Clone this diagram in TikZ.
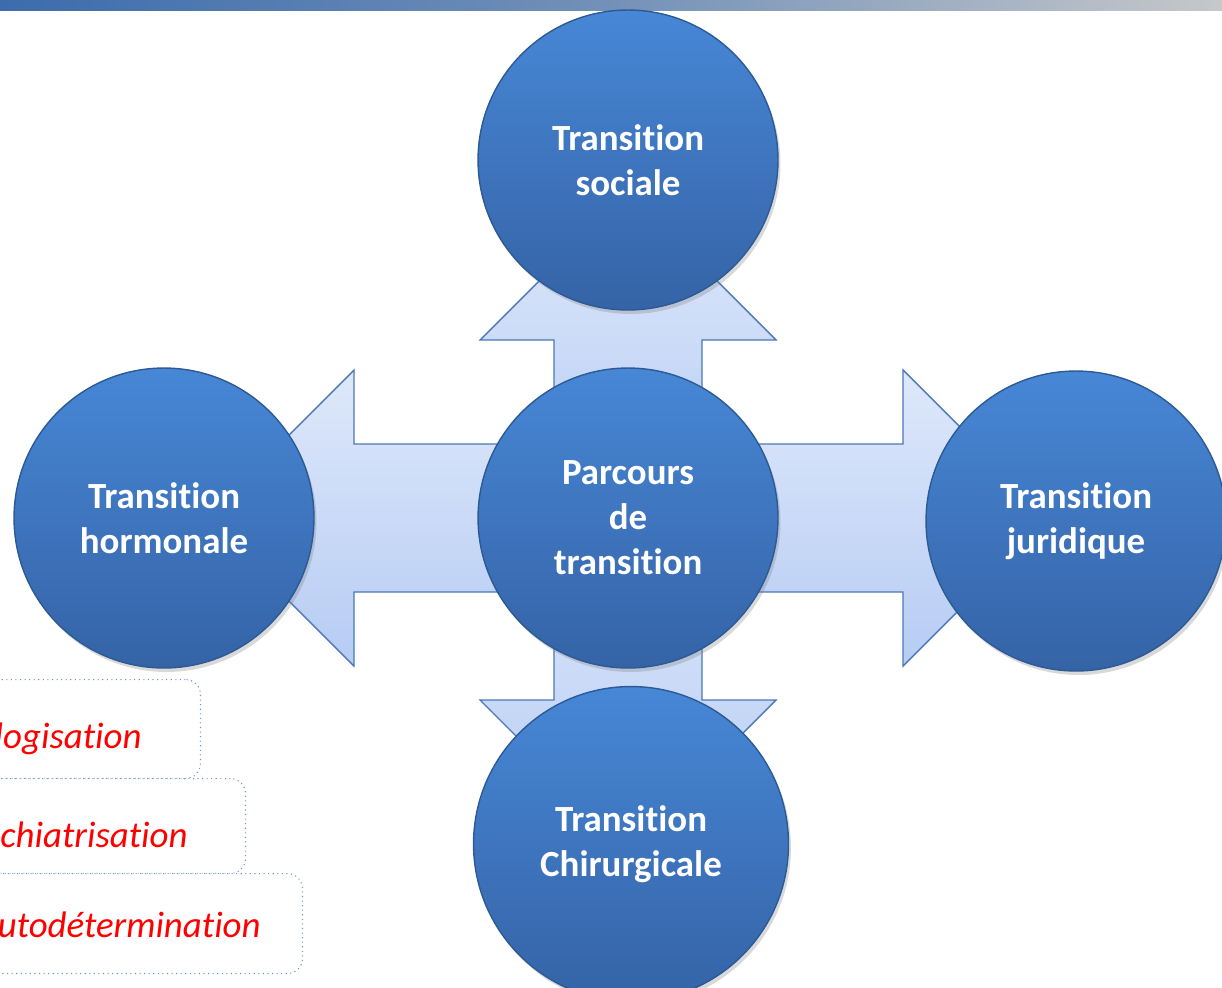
\documentclass[tikz,border=0pt]{standalone}
\usepackage{fontspec}
\setmainfont{Carlito}[Ligatures=NoCommon]
\usetikzlibrary{shadows,backgrounds}
\definecolor{hautbleu}{HTML}{4787D6}
\definecolor{basbleu}{HTML}{3563A6}
\definecolor{bordbleu}{HTML}{2C5A94}
\definecolor{flecheclair}{HTML}{DEE8FA}
\definecolor{flechefonce}{HTML}{B6CCF4}
\definecolor{flechebord}{HTML}{4A78B6}
\definecolor{cadrebord}{HTML}{7094C8}
\definecolor{barreg}{HTML}{3C6CAC}
\definecolor{barred}{HTML}{C6C8CA}
% rotation, longueur du corps
\newcommand\grandefleche[2]{%
  \begin{scope}[shift={(parc.center)},rotate=#1]
    \path[fleche] (0,-74)--(#2,-74)--(#2,-148)--({#2+148},0)--(#2,148)--(#2,74)--(0,74)--cycle;
  \end{scope}}
\begin{document}
\begin{tikzpicture}[x=.02cm,y=-.02cm, line join=round,
    rond/.style={circle, minimum size=6cm, inner sep=0pt, shading=axis, top color=hautbleu, bottom color=basbleu,
      draw=bordbleu, line width=.8pt, text=white, align=center, font=\fontsize{21}{25.6}\selectfont\bfseries,
      drop shadow={opacity=.3, shadow xshift=.05cm, shadow yshift=-.08cm}},
    fleche/.style={top color=flecheclair, bottom color=flechefonce, draw=flechebord, line width=.8pt},
    cadre/.style={draw=cadrebord, dotted, fill=white, rounded corners=.3cm, line width=.6pt, inner sep=0pt},
    rouge/.style={text=red, font=\fontsize{21}{25}\selectfont\itshape, inner sep=0pt}]
  \useasboundingbox (0,0) rectangle (1222,987);
  \clip (0,0) rectangle (1222,987);
  \shade[left color=barreg, right color=barred, middle color=barreg!60!barred] (0,0) rectangle (1222,10);
  % cercles
  \node[rond] (parc) at (628,518) {Parcours\\de\\transition};
  \node[rond] (soc) at (628,160) {Transition\\sociale};
  \node[rond] (horm) at (164,518) {Transition\\hormonale};
  \node[rond] (jur) at (1076,521) {Transition\\juridique};
  \node[rond, minimum size=6.3cm] (chir) at (631,844) {Transition\\Chirurgicale};
  % fleches
  \begin{scope}[on background layer]
    \grandefleche{0}{275}
    \grandefleche{90}{178}
    \grandefleche{180}{274}
    \grandefleche{270}{182}
  \end{scope}
  % cadres
  \node[cadre, anchor=north east, minimum width=5.2cm, minimum height=1.98cm] (c1) at (201,679) {};
  \node[cadre, anchor=north east, minimum width=6.12cm, minimum height=1.9cm] (c2) at (246,778) {};
  \node[cadre, anchor=north east, minimum width=7.26cm, minimum height=2cm] (c3) at (303,873) {};
  \node[rouge, anchor=base east] (t1) at (142,748) {logisation};
  \node[rouge, anchor=base east] (t2) at (188,847) {chiatrisation};
  \node[rouge, anchor=base east] (t3) at (261,937) {utodétermination};
\end{tikzpicture}
\end{document}
